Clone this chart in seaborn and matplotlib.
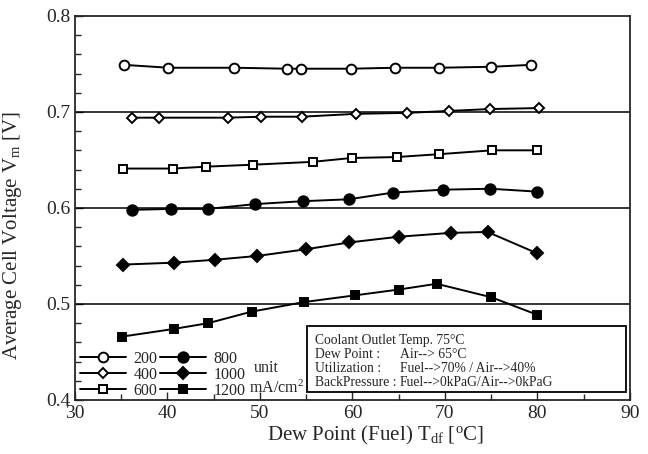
import matplotlib
matplotlib.use("Agg")
import matplotlib.pyplot as plt
import seaborn as sns
import pandas as pd
from matplotlib.ticker import MultipleLocator
from matplotlib.patches import Rectangle

# data (dew point of fuel in degC, voltage in V)
x_200 = [35.3, 40.1, 47.2, 52.9, 54.4, 59.8, 64.6, 69.4, 75.0, 79.3]
v_200 = [0.749, 0.746, 0.746, 0.745, 0.745, 0.745, 0.746, 0.746, 0.747, 0.749]

x_400 = [36.2, 39.1, 46.5, 50.1, 54.5, 60.4, 65.9, 70.4, 74.9, 80.2]
v_400 = [0.694, 0.694, 0.694, 0.695, 0.695, 0.698, 0.699, 0.701, 0.703, 0.704]

x_600 = [35.2, 40.6, 44.2, 49.2, 55.7, 59.9, 64.8, 69.4, 75.1, 79.9]
v_600 = [0.641, 0.641, 0.643, 0.645, 0.648, 0.652, 0.653, 0.656, 0.660, 0.660]

x_800 = [36.2, 40.4, 44.4, 49.5, 54.6, 59.6, 64.4, 69.8, 74.9, 79.9]
v_800 = [0.598, 0.599, 0.599, 0.604, 0.607, 0.609, 0.616, 0.619, 0.620, 0.617]

x_1000 = [35.2, 40.7, 45.1, 49.7, 55.0, 59.6, 65.0, 70.6, 74.6, 79.9]
v_1000 = [0.541, 0.543, 0.546, 0.550, 0.557, 0.564, 0.570, 0.574, 0.575, 0.553]

x_1200 = [35.1, 40.7, 44.4, 49.1, 54.8, 60.3, 65.0, 69.1, 75.0, 79.9]
v_1200 = [0.466, 0.474, 0.480, 0.492, 0.502, 0.509, 0.515, 0.521, 0.507, 0.489]

labels = ["200", "400", "600", "800", "1000", "1200"]
note_title = "Coolant Outlet Temp. 75\u00b0C"
note_keys = ["Dew Point :", "Utilization :", "BackPressure :"]
note_vals = ["Air--> 65\u00b0C", "Fuel-->70% / Air-->40%", "Fuel-->0kPaG/Air-->0kPaG"]

series = [(x_200, v_200), (x_400, v_400), (x_600, v_600),
          (x_800, v_800), (x_1000, v_1000), (x_1200, v_1200)]
# marker style per series: (marker, size, face)
styles = [("o", 7, "white"), ("D", 5.5, "white"), ("s", 5.5, "white"),
          ("o", 7.5, "black"), ("D", 6.5, "black"), ("s", 6.2, "black")]

sns.set_style("ticks")
plt.rcParams['font.family'] = ['Liberation Serif', 'DejaVu Serif']
plt.rcParams['mathtext.fontset'] = 'custom'
plt.rcParams['mathtext.rm'] = 'Liberation Serif'
plt.rcParams['mathtext.it'] = 'Liberation Serif:italic'

fig = plt.figure(figsize=(6.48, 4.54), dpi=100)
ax = fig.add_axes([0.1157, 0.119, 0.8565, 0.846])

# horizontal reference lines
for yv in [0.5, 0.6, 0.7]:
    ax.axhline(yv, color="black", lw=1.1, zorder=1)

for (xs, vs), (mk, ms, fc), lab in zip(series, styles, labels):
    df = pd.DataFrame({"T": xs, "V": vs})
    sns.lineplot(data=df, x="T", y="V", ax=ax, color="black", lw=1.4,
                 marker=mk, markersize=ms, markerfacecolor=fc,
                 markeredgecolor="black", markeredgewidth=1.4,
                 label=lab, zorder=3)

ax.set_xlim(30, 90)
ax.set_ylim(0.4, 0.8)
ax.xaxis.set_major_locator(MultipleLocator(10))
ax.xaxis.set_minor_locator(MultipleLocator(5))
ax.yaxis.set_major_locator(MultipleLocator(0.1))
ax.yaxis.set_minor_locator(MultipleLocator(0.02))
ax.tick_params(which="both", direction="in", labelsize=14, width=1.0)
ax.tick_params(which="major", length=6)
ax.tick_params(which="minor", length=4)
for sp in ax.spines.values():
    sp.set_linewidth(1.3)

ax.set_xlabel(r"Dew Point (Fuel) T$_{\rm df}$ [$^{\rm o}$C]", fontsize=15)
ax.set_ylabel(r"Average Cell Voltage V$_{\rm m}$ [V]", fontsize=15)
ax.xaxis.set_label_coords(0.542, -0.062)
ax.yaxis.set_label_coords(-0.092, 0.428)

leg = ax.legend(loc="lower left", ncol=2, frameon=False, fontsize=11.5,
                handlelength=2.9, handletextpad=0.45, columnspacing=0.15,
                labelspacing=0.0, borderaxespad=0.0, borderpad=0.0,
                bbox_to_anchor=(0.009, 0.003))

ax.text(0.344, 0.083, "unit", transform=ax.transAxes,
        fontsize=11.5, ha="center", va="center")
ax.text(0.364, 0.030, "mA/cm$^{2}$", transform=ax.transAxes,
        fontsize=11.5, ha="center", va="center")

# condition box
ax.add_patch(Rectangle((0.418, 0.021), 0.575, 0.172, transform=ax.transAxes,
                       fill=False, ec="black", lw=1.3, zorder=4))
ax.text(0.432, 0.156, note_title, transform=ax.transAxes,
        fontsize=9.8, ha="left", va="center")
for i, (k, v) in enumerate(zip(note_keys, note_vals)):
    yy = 0.119 - i * 0.037
    ax.text(0.432, yy, k, transform=ax.transAxes,
            fontsize=9.8, ha="left", va="center")
    ax.text(0.585, yy, v, transform=ax.transAxes,
            fontsize=9.8, ha="left", va="center")

fig.savefig("out.png", dpi=100)
